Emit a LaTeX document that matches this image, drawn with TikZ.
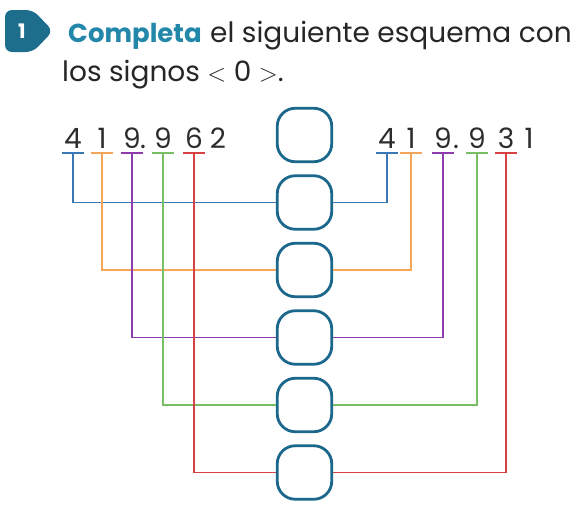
\documentclass[tikz,border=0pt]{standalone}
\usepackage{fontspec}
\setmainfont{Poppins}
\usetikzlibrary{positioning}
\definecolor{boxteal}{RGB}{27,104,140}
\definecolor{titleteal}{RGB}{35,135,170}
\definecolor{badge}{RGB}{29,110,140}
\definecolor{lblue}{RGB}{58,120,181}
\definecolor{lorange}{RGB}{244,165,90}
\definecolor{lpurple}{RGB}{140,60,175}
\definecolor{lgreen}{RGB}{120,190,100}
\definecolor{lred}{RGB}{215,65,70}
\definecolor{digit}{RGB}{45,45,45}

\begin{document}
\begin{tikzpicture}[x=1pt,y=-1pt,node distance=11.2pt]
  \tikzset{
    sbox/.style={draw=boxteal,fill=white,line width=2.8pt,rounded corners=18pt,
                 minimum width=54.5pt,minimum height=53.5pt,inner sep=0pt},
    dig/.style={font=\fontsize{28}{28}\selectfont,text=digit,inner sep=0pt,anchor=base},
    txt/.style={font=\fontsize{28}{28}\selectfont,text=black!85,inner sep=0pt,anchor=base west},
    wire/.style={line width=1.8pt},
    tick/.style={line width=2pt}
  }
  \useasboundingbox (0,0) rectangle (576,512);
  % title
  \fill[badge,rounded corners=7pt] (5,10) -- (33,10) -- (53,31) -- (33,52) -- (5,52) -- cycle;
  \node[text=white,font=\bfseries\fontsize{20}{20}\selectfont] (num) at (22,31) {1};
  \node[txt,text=titleteal,font=\bfseries\fontsize{26}{26}\selectfont] (comp) at (68,42) {Completa};
  \node[txt] (line1) at (210,42) {el siguiente esquema con};
  \node[txt] (line2) at (62,81) {los signos $<$ 0 $>$.};
  % boxes
  \node[sbox] (b0) at (304.5,135) {};
  \foreach \i [remember=\i as \j (initially 0)] in {1,...,5}
    \node[sbox,below=of b\j] (b\i) {};
  % numbers
  \foreach \x/\d [count=\i] in {73/4,102/1,132/9,143/.,163/9,194/6,218/2}
    \node[dig] (l\i) at (\x,148) {\d};
  \foreach \x/\d [count=\i] in {387/4,411/1,443/9,456/.,477/9,506/3,529/1}
    \node[dig] (r\i) at (\x,148) {\d};
  % connectors
  \foreach \i/\c [count=\k] in {1/lblue,2/lorange,3/lpurple,5/lgreen,6/lred}{
    \coordinate (tl\k) at ([yshift=-5pt]l\i.base);
    \coordinate (tr\k) at ([yshift=-5pt]r\i.base);
    \draw[tick,\c] ([xshift=-11pt]tl\k) -- ([xshift=11pt]tl\k);
    \draw[tick,\c] ([xshift=-11pt]tr\k) -- ([xshift=11pt]tr\k);
    \draw[wire,\c] (tl\k) |- (b\k.west);
    \draw[wire,\c] (tr\k) |- (b\k.east);
  }
\end{tikzpicture}
\end{document}
